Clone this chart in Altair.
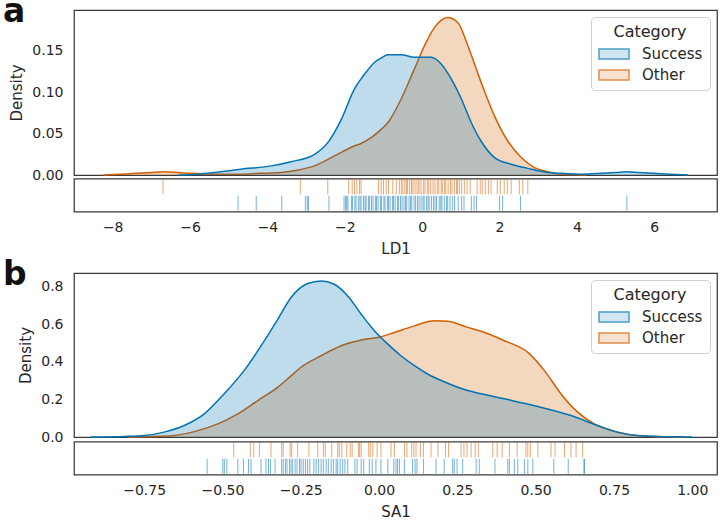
import altair as alt
import pandas as pd

CATS = ["Success", "Other"]
COLORS = ["#0173B2", "#D55E00"]
LIGHT = ["#C0DCEC", "#F5D7BF"]
FONT = "DejaVu Sans"
INK = "#262626"

# ---------------- Panel a: LD1 ----------------
a_success_x = [-6.30, -5.80, -5.37, -4.68, -3.90, -3.39, -2.78, -2.44, -2.09, -1.75, -1.58, -1.40,
               -1.23, -1.06, -0.89, -0.54, -0.20, 0.23, 0.49, 0.75, 1.01, 1.27, 1.52, 1.87, 2.30,
               2.73, 3.25, 3.59, 4.10, 4.63, 5.00, 5.29, 5.60, 6.00, 6.40, 6.87]
a_success_y = [0.000, 0.001, 0.003, 0.007, 0.011, 0.016, 0.025, 0.039, 0.067, 0.104, 0.116, 0.127,
               0.136, 0.141, 0.145, 0.145, 0.142, 0.142, 0.134, 0.116, 0.092, 0.063, 0.041, 0.021,
               0.013, 0.008, 0.003, 0.002, 0.001, 0.002, 0.003, 0.004, 0.003, 0.002, 0.001, 0.000]
a_other_x = [-8.24, -7.80, -7.40, -7.00, -6.70, -6.30, -6.00, -5.40, -4.80, -4.20, -3.64, -3.20,
             -2.79, -2.27, -1.76, -1.58, -1.32, -1.06, -0.89, -0.54, -0.20, 0.06, 0.32, 0.66,
             0.92, 1.18, 1.52, 1.87, 2.21, 2.56, 2.90, 3.25, 3.59, 3.90, 4.23]
a_other_y = [0.000, 0.001, 0.002, 0.003, 0.004, 0.003, 0.002, 0.001, 0.001, 0.002, 0.003, 0.006,
             0.011, 0.023, 0.035, 0.038, 0.045, 0.055, 0.063, 0.092, 0.128, 0.156, 0.178, 0.190,
             0.184, 0.156, 0.112, 0.071, 0.041, 0.021, 0.009, 0.004, 0.001, 0.0005, 0.000]

a_rug_success = [-4.76, -4.29, -3.63, -3.02, -2.97, -2.94, -2.41, -2.02, -1.98, -1.95, -1.92,
                 -1.83, -1.80, -1.74, -1.71, -1.65, -1.61, -1.58, -1.52, -1.48, -1.45, -1.39, -1.36,
                 -1.31, -1.27, -1.21, -1.18, -1.14, -1.08, -1.05, -0.99, -0.96, -0.90, -0.87, -0.83,
                 -0.77, -0.74, -0.70, -0.64, -0.61, -0.56, -0.52, -0.47, -0.43, -0.40, -0.34, -0.30,
                 -0.27, -0.21, -0.17, -0.12, -0.08, -0.03, 0.02, 0.05, 0.11, 0.15, 0.18, 0.24, 0.29,
                 0.33, 0.37, 0.44, 0.48, 0.51, 0.57, 0.63, 0.66, 0.72, 0.79, 0.84, 0.93, 1.02, 1.08,
                 1.27, 1.34, 1.40, 2.00, 2.08, 2.54, 5.29]
a_rug_other = [-6.70, -3.15, -2.44, -1.90, -1.81, -1.75, -1.69, -1.62, -1.58, -1.13, -1.06, -1.00,
               -0.93, -0.87, -0.76, -0.67, -0.59, -0.54, -0.50, -0.45, -0.41, -0.38, -0.33, -0.28,
               -0.26, -0.21, -0.16, -0.11, -0.08, -0.03, 0.03, 0.07, 0.13, 0.17, 0.22, 0.28, 0.33,
               0.39, 0.43, 0.49, 0.52, 0.58, 0.61, 0.67, 0.73, 0.77, 0.83, 0.89, 0.91, 0.96, 1.02,
               1.09, 1.16, 1.24, 1.42, 1.50, 1.55, 1.63, 1.71, 1.78, 1.94, 2.02, 2.12, 2.20, 2.30,
               2.51, 2.60, 2.73]

# ---------------- Panel b: SA1 ----------------
b_success_x = [-0.92, -0.813, -0.749, -0.686, -0.622, -0.558, -0.495, -0.431, -0.366, -0.323,
               -0.281, -0.228, -0.185, -0.143, -0.100, -0.057, -0.015, 0.028, 0.070, 0.113, 0.155,
               0.219, 0.283, 0.326, 0.400, 0.507, 0.613, 0.698, 0.762, 0.826, 0.890, 0.954, 1.00]
b_success_y = [0.000, 0.003, 0.008, 0.026, 0.061, 0.123, 0.229, 0.353, 0.512, 0.627, 0.742, 0.816,
               0.830, 0.812, 0.750, 0.653, 0.565, 0.494, 0.432, 0.379, 0.335, 0.286, 0.247, 0.230,
               0.203, 0.162, 0.114, 0.061, 0.026, 0.008, 0.003, 0.001, 0.000]
b_other_x = [-0.80, -0.760, -0.654, -0.579, -0.515, -0.451, -0.387, -0.323, -0.281, -0.249, -0.185,
             -0.121, -0.057, 0.006, 0.049, 0.113, 0.177, 0.219, 0.283, 0.326, 0.400, 0.475, 0.528,
             0.581, 0.634, 0.687, 0.741, 0.794, 0.847, 0.932, 0.98]
b_other_y = [0.000, 0.001, 0.008, 0.034, 0.070, 0.123, 0.194, 0.265, 0.325, 0.371, 0.432, 0.485,
             0.516, 0.533, 0.556, 0.591, 0.618, 0.615, 0.583, 0.562, 0.512, 0.450, 0.353, 0.229,
             0.132, 0.070, 0.035, 0.014, 0.005, 0.001, 0.000]

b_rug_success = [-0.549, -0.499, -0.494, -0.486, -0.451, -0.433, -0.417, -0.409, -0.377, -0.361,
                 -0.353, -0.347, -0.332, -0.311, -0.306, -0.299, -0.294, -0.286, -0.281, -0.276,
                 -0.268, -0.262, -0.254, -0.249, -0.242, -0.235, -0.228, -0.221, -0.208, -0.201,
                 -0.193, -0.185, -0.178, -0.169, -0.162, -0.153, -0.146, -0.137, -0.132, -0.124,
                 -0.116, -0.109, -0.100, -0.077, -0.070, -0.057, -0.049, -0.031, -0.022, -0.010,
                 0.006, 0.028, 0.047, 0.054, 0.059, 0.065, 0.081, 0.107, 0.115, 0.121, 0.142,
                 0.182, 0.208, 0.235, 0.240, 0.249, 0.267, 0.310, 0.320, 0.370, 0.411, 0.416,
                 0.432, 0.443, 0.464, 0.475, 0.491, 0.558, 0.604, 0.654, 0.656]
b_rug_other = [-0.464, -0.411, -0.400, -0.382, -0.345, -0.311, -0.306, -0.284, -0.279, -0.260,
               -0.224, -0.196, -0.178, -0.172, -0.151, -0.132, -0.127, -0.119, -0.103, -0.092,
               -0.086, -0.066, -0.062, -0.057, -0.033, -0.028, -0.020, -0.006, 0.006, 0.038,
               0.049, 0.081, 0.089, 0.104, 0.111, 0.118, 0.132, 0.142, 0.166, 0.188, 0.212,
               0.222, 0.262, 0.271, 0.281, 0.294, 0.307, 0.317, 0.363, 0.377, 0.393, 0.416,
               0.441, 0.469, 0.475, 0.483, 0.507, 0.549, 0.562, 0.592, 0.613, 0.629, 0.650]

W = 643


def kde_frame(sx, sy, ox, oy):
    return pd.concat([
        pd.DataFrame({"x": sx, "density": sy, "Category": "Success"}),
        pd.DataFrame({"x": ox, "density": oy, "Category": "Other"}),
    ], ignore_index=True)


def rug_frame(s, o):
    return pd.concat([
        pd.DataFrame({"x": s, "Category": "Success"}),
        pd.DataFrame({"x": o, "Category": "Other"}),
    ], ignore_index=True)


LEGEND = alt.Legend(
    title="Category", orient="top-right", offset=7,
    fillColor="rgba(255,255,255,0.8)", strokeColor="#d0d0d0", cornerRadius=4, padding=7,
    titleFont=FONT, titleFontSize=16, titleFontWeight="normal", titleColor=INK,
    titleAnchor="middle", titlePadding=3,
    labelFont=FONT, labelFontSize=15, labelColor=INK, labelOffset=17,
    symbolType="M-1.5,-0.5H1.5V0.5H-1.5Z", symbolSize=400, symbolStrokeWidth=1.5,
    symbolOffset=5, rowPadding=2,
)

# drawing colour scale (listed in another order so it stays apart from the legend scales)
DRAW_COLOR = alt.Scale(domain=["Other", "Success"], range=[COLORS[1], COLORS[0]])


def kde_panel(df, xdom, ydom, yticks, yfmt, letter, height):
    base = alt.Chart(df).encode(
        x=alt.X("x:Q", scale=alt.Scale(domain=xdom, nice=False, zero=False), axis=None),
        y=alt.Y("density:Q", scale=alt.Scale(domain=ydom, nice=False, zero=True),
                axis=alt.Axis(values=yticks, format=yfmt, title="Density", grid=False, ticks=False,
                              domain=False, labelPadding=11, labelFontSize=14, titleFontSize=15,
                              labelFont=FONT, titleFont=FONT, labelColor=INK, titleColor=INK,
                              titleFontWeight="normal", titlePadding=7)),
        color=alt.Color("Category:N", scale=DRAW_COLOR, legend=None),
    )
    layers = []
    for cat in ["Other", "Success"]:
        sub = base.transform_filter(alt.datum.Category == cat)
        layers.append(sub.mark_area(fillOpacity=0.25, interpolate="monotone"))
        layers.append(sub.mark_line(strokeWidth=1.5, interpolate="monotone"))
    # legend-only layer (draws nothing): light fill + dark edge per category
    legend_layer = alt.Chart(df).transform_filter(alt.datum.density > 100).mark_point().encode(
        fill=alt.Fill("Category:N", scale=alt.Scale(domain=CATS, range=LIGHT), legend=LEGEND),
        stroke=alt.Stroke("Category:N", scale=alt.Scale(domain=CATS, range=COLORS), legend=LEGEND),
    )
    lab = alt.Chart(pd.DataFrame({"t": [letter]})).mark_text(
        font=FONT, fontSize=33, fontWeight="bold", align="left", baseline="alphabetic", color="#111111"
    ).encode(text="t:N", x=alt.value(-71), y=alt.value(12))
    return alt.layer(*layers, legend_layer, lab).properties(width=W, height=height)


def rug_panel(df, xdom, xticks, xfmt, xtitle):
    return alt.Chart(df).mark_tick(thickness=1, size=15, opacity=0.55).encode(
        x=alt.X("x:Q", scale=alt.Scale(domain=xdom, nice=False, zero=False),
                axis=alt.Axis(values=xticks, format=xfmt, title=xtitle, grid=False, ticks=False,
                              domain=False, labelPadding=9, labelFontSize=14, titleFontSize=15,
                              labelFont=FONT, titleFont=FONT, labelColor=INK, titleColor=INK,
                              titleFontWeight="normal", titlePadding=7)),
        y=alt.Y("Category:N", scale=alt.Scale(domain=["Other", "Success"], type="point", padding=0.5),
                axis=None),
        color=alt.Color("Category:N", scale=DRAW_COLOR, legend=None),
    ).properties(width=W, height=33)


xdom_a = [-9.0, 7.62]
xdom_b = [-0.974, 1.079]

kde_a = kde_panel(kde_frame(a_success_x, a_success_y, a_other_x, a_other_y), xdom_a, [0, 0.199],
                  [0.0, 0.05, 0.10, 0.15], ".2f", "a", 165)
rug_a = rug_panel(rug_frame(a_rug_success, a_rug_other), xdom_a, [-8, -6, -4, -2, 0, 2, 4, 6], "d", "LD1")
kde_b = kde_panel(kde_frame(b_success_x, b_success_y, b_other_x, b_other_y), xdom_b, [0, 0.872],
                  [0.0, 0.2, 0.4, 0.6, 0.8], ".1f", "b", 164)
rug_b = rug_panel(rug_frame(b_rug_success, b_rug_other), xdom_b,
                  [-0.75, -0.5, -0.25, 0.0, 0.25, 0.5, 0.75, 1.0], ".2f", "SA1")

RES = dict(color="independent", fill="independent", stroke="independent")
panel_a = alt.vconcat(kde_a, rug_a, spacing=3.5, bounds="flush").resolve_scale(**RES)
panel_b = alt.vconcat(kde_b, rug_b, spacing=4.5, bounds="flush").resolve_scale(**RES)

chart = alt.vconcat(panel_a, panel_b, spacing=0).resolve_scale(**RES).properties(
    padding={"left": 2, "top": -5, "right": 2, "bottom": 0}, background="white"
).configure_view(
    stroke="#3a3a3a", strokeWidth=1.25
)

chart.save("out.html", embed_options={"renderer": "svg", "actions": False})
